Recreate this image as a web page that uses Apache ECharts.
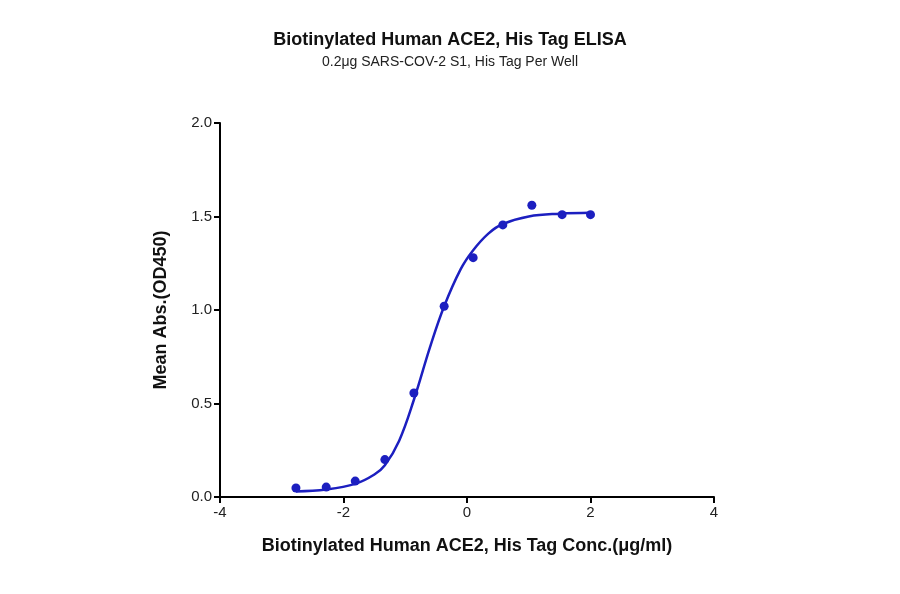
<!DOCTYPE html>
<html><head><meta charset="utf-8">
<script src="https://cdn.jsdelivr.net/npm/echarts@6/dist/echarts.min.js"></script>
<style>body{margin:0;background:#fff}#main{width:900px;height:594px}</style>
</head><body><div id="main"></div>
<script>
// measured points (log conc, OD450)
var pointX = [-2.77, -2.28, -1.81, -1.33, -0.86, -0.37, 0.10, 0.58, 1.05, 1.54, 2.0];
var pointY = [0.048, 0.053, 0.085, 0.20, 0.556, 1.02, 1.28, 1.455, 1.56, 1.51, 1.51];
// fitted curve
var curveX = [-2.77, -2.28, -1.81, -1.5, -1.33, -1.1, -0.86, -0.6, -0.37, -0.1, 0.1, 0.35, 0.58, 1.0, 1.5, 2.0];
var curveY = [0.03, 0.04, 0.07, 0.12, 0.17, 0.30, 0.52, 0.80, 1.02, 1.22, 1.32, 1.41, 1.46, 1.50, 1.515, 1.52];

var blue = '#1c1fc0';
var myChart = echarts.init(document.getElementById('main'));
var axisCommon = {
    axisLine: { show: true, onZero: false, lineStyle: { color: '#000', width: 2 } },
    axisTick: { show: true, length: 6, lineStyle: { color: '#000', width: 2 } },
    axisLabel: { color: '#222', fontSize: 15, fontFamily: 'Liberation Sans' },
    splitLine: { show: false },
    nameTextStyle: { color: '#111', fontSize: 18, fontWeight: 'bold', fontFamily: 'Liberation Sans' }
};
var option = {
    title: {
        text: 'Biotinylated Human ACE2, His Tag ELISA',
        subtext: '0.2μg SARS-COV-2 S1, His Tag Per Well',
        left: 'center', top: 26, itemGap: 6,
        textStyle: { color: '#111', fontSize: 18, fontWeight: 'bold', fontFamily: 'Liberation Sans' },
        subtextStyle: { color: '#222', fontSize: 14, fontFamily: 'Liberation Sans' }
    },
    grid: { left: 220, right: 186, top: 123, bottom: 97 },
    xAxis: Object.assign({}, axisCommon, {
        type: 'value', min: -4, max: 4, interval: 2,
        name: 'Biotinylated Human ACE2, His Tag Conc.(μg/ml)',
        nameLocation: 'middle', nameGap: 40
    }),
    yAxis: Object.assign({}, axisCommon, {
        type: 'value', min: 0, max: 2, interval: 0.5,
        axisLabel: Object.assign({}, axisCommon.axisLabel, {
            formatter: function (v) { return v.toFixed(1); }
        }),
        name: 'Mean Abs.(OD450)', nameLocation: 'middle', nameGap: 50
    }),
    series: [{
        type: 'line', smooth: 0.4, symbol: 'none',
        lineStyle: { color: blue, width: 2.5 },
        data: curveX.map(function (x, i) { return [x, curveY[i]]; })
    }, {
        type: 'scatter', symbolSize: 9,
        itemStyle: { color: blue, opacity: 1 },
        data: pointX.map(function (x, i) { return [x, pointY[i]]; })
    }]
};
option && myChart.setOption(option);
</script></body></html>
